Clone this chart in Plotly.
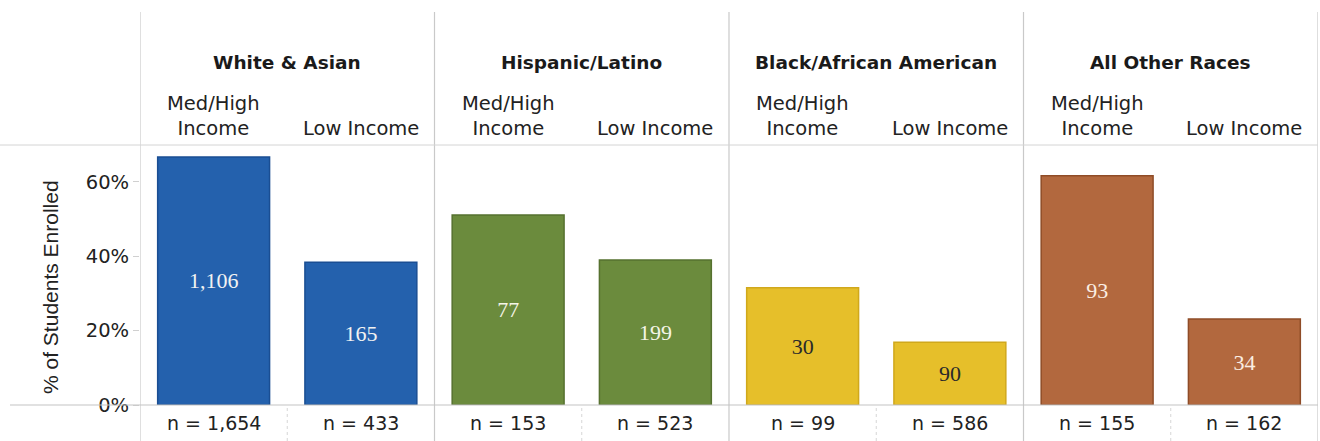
import plotly.graph_objects as go

# Enrollment by race/ethnicity and income group
groups = ["White & Asian", "Hispanic/Latino", "Black/African American", "All Other Races"]
income_levels = ["Med/High<br>Income", "Low Income"]
pct_enrolled = [66.7, 38.4, 51.1, 39.0, 31.5, 16.9, 61.6, 23.1]
enrolled_count = ["1,106", "165", "77", "199", "30", "90", "93", "34"]
n_students = ["1,654", "433", "153", "523", "99", "586", "155", "162"]
y_ticks = [0, 20, 40, 60]
y_tick_labels = ["0%", "20%", "40%", "60%"]

group_colors = ["#2461ad", "#6b8b3d", "#e6bf2a", "#b2683e"]
group_edges = ["#1a4e93", "#56712f", "#d0a81c", "#8f4c27"]
label_colors = ["#f2f2f2", "#f5f5e8", "#2a2a2a", "#fbeee2"]

W, H = 1320, 441
L, R, T, B = 140, 2, 146, 36
plot_w = W - L - R
plot_h = H - T - B


def px_x(x):
    return (x - L) / plot_w


def px_y(y):
    return (H - B - y) / plot_h


xs = list(range(len(pct_enrolled)))
bar_colors = [group_colors[i // 2] for i in xs]
edge_colors = [group_edges[i // 2] for i in xs]
text_colors = [label_colors[i // 2] for i in xs]

fig = go.Figure(
    go.Bar(
        x=xs,
        y=pct_enrolled,
        width=0.76,
        marker=dict(color=bar_colors, line=dict(color=edge_colors, width=1.5)),
        text=enrolled_count,
        textposition="inside",
        insidetextanchor="middle",
        textangle=0,
        textfont=dict(family="Liberation Serif", size=22, color=text_colors),
        hoverinfo="skip",
    )
)

line_color = "#c9c9c9"
shapes = []
# group separators spanning header, plot and n-row
for gx in [-0.5, 1.5, 3.5, 5.5, 7.5]:
    shapes.append(dict(type="line", xref="x", yref="paper", x0=gx, x1=gx,
                       y0=px_y(441), y1=px_y(12), line=dict(color=line_color, width=1.2)))
# small dividers between income bars in the n-row
for mx in [0.5, 2.5, 4.5, 6.5]:
    shapes.append(dict(type="line", xref="x", yref="paper", x0=mx, x1=mx,
                       y0=px_y(441), y1=px_y(405), line=dict(color="#d6d6d6", width=1, dash="dot")))
# header rule and baseline rule
shapes.append(dict(type="line", xref="paper", yref="paper", x0=px_x(0), x1=1,
                   y0=px_y(145), y1=px_y(145), line=dict(color="#d4d4d4", width=1)))
shapes.append(dict(type="line", xref="paper", yref="paper", x0=px_x(10), x1=1,
                   y0=px_y(405), y1=px_y(405), line=dict(color="#c4c4c4", width=1.2)))

annotations = []
for gi, g in enumerate(groups):
    annotations.append(dict(
        x=2 * gi + 0.5, xref="x", y=px_y(62), yref="paper", text=f"<b>{g}</b>",
        showarrow=False, font=dict(family="DejaVu Sans", size=18.5, color="#1a1a1a"),
        xanchor="center", yanchor="middle"))
    annotations.append(dict(
        x=2 * gi, xref="x", y=px_y(142), yref="paper", text=income_levels[0],
        showarrow=False, font=dict(family="DejaVu Sans", size=19.5, color="#222222"),
        xanchor="center", yanchor="bottom", align="center"))
    annotations.append(dict(
        x=2 * gi + 1, xref="x", y=px_y(142), yref="paper", text=income_levels[1],
        showarrow=False, font=dict(family="DejaVu Sans", size=19.5, color="#222222"),
        xanchor="center", yanchor="bottom"))
for i, n in enumerate(n_students):
    annotations.append(dict(
        x=i, xref="x", y=px_y(423), yref="paper", text=f"n = {n}",
        showarrow=False, font=dict(family="DejaVu Sans", size=19, color="#222222"),
        xanchor="center", yanchor="middle"))
annotations.append(dict(
    x=px_x(50), xref="paper", y=px_y(287), yref="paper", text="% of Students Enrolled",
    textangle=-90, showarrow=False,
    font=dict(family="Liberation Sans", size=21, color="#222222"),
    xanchor="center", yanchor="middle"))

fig.update_layout(
    width=W, height=H,
    margin=dict(l=L, r=R, t=T, b=B),
    paper_bgcolor="white", plot_bgcolor="white",
    showlegend=False,
    bargap=0.24,
    shapes=shapes,
    annotations=annotations,
    xaxis=dict(range=[-0.5, 7.5], showticklabels=False, showgrid=False,
               zeroline=False, showline=False, fixedrange=True),
    yaxis=dict(range=[0, plot_h / 3.72], tickvals=y_ticks, ticktext=y_tick_labels,
               showgrid=False, zeroline=False, showline=False,
               ticks="outside", ticklen=6, tickcolor="#d0d0d0",
               tickfont=dict(family="DejaVu Sans", size=19.5, color="#222222"),
               fixedrange=True),
)

fig.write_html("out.html")
